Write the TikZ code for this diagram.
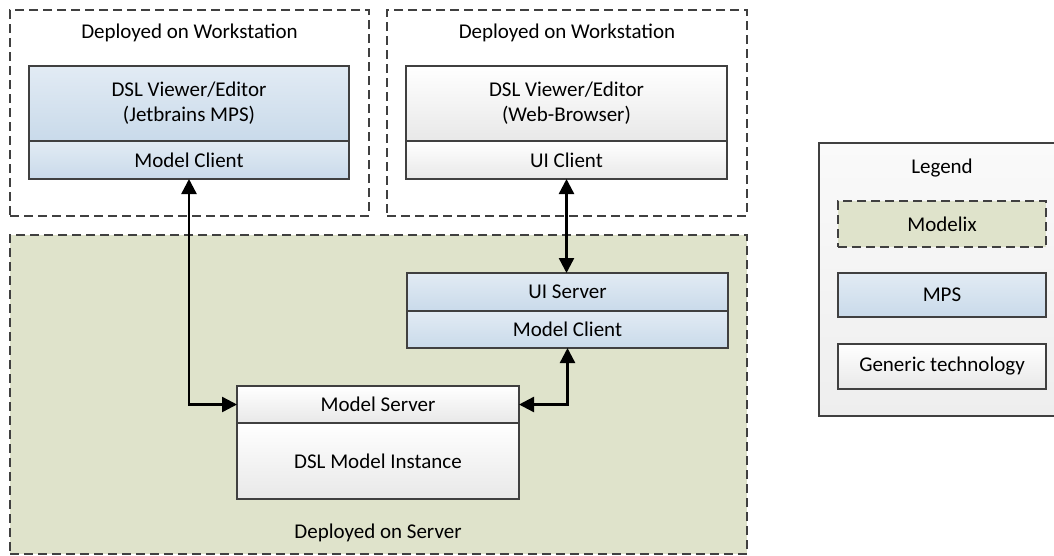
\documentclass[tikz,border=0pt]{standalone}
\usepackage{fontspec}
\setmainfont{Carlito}
\usetikzlibrary{arrows.meta}
\definecolor{dgray}{HTML}{404040}
\definecolor{sage}{HTML}{DFE3CB}
\definecolor{mpsTop}{HTML}{E2EBF4}
\definecolor{mpsBot}{HTML}{C9DAEA}
\definecolor{genBot}{HTML}{E8E8E8}
\definecolor{legTop}{HTML}{FAFAFA}
\definecolor{legBot}{HTML}{EEEEEE}
\tikzset{
  box/.style={rectangle, anchor=north west, inner sep=0pt, outer sep=0pt,
    font=\fontsize{21}{25}\selectfont, align=center},
  dashbox/.style={box, draw=dgray, line width=2.4pt, dash pattern=on 9pt off 5pt},
  mpsbox/.style={box, draw=dgray, line width=1.8pt, top color=mpsTop, bottom color=mpsBot},
  genbox/.style={box, draw=dgray, line width=1.8pt, top color=white, bottom color=genBot},
  title/.style={font=\fontsize{21}{25}\selectfont, inner sep=0pt},
  conn/.style={line width=2.4pt, black,
    {Triangle[length=15pt,width=15pt]}-{Triangle[length=15pt,width=15pt]}}
}
\begin{document}
\begin{tikzpicture}[x=1pt,y=-1pt]
\useasboundingbox (0,0) rectangle (1054,555);
% workstation containers
\node[dashbox, minimum width=359pt, minimum height=206pt] (ws1) at (10,10) {};
\node[title] (ws1t) at (189.5,33) {Deployed on Workstation};
\node[dashbox, minimum width=360pt, minimum height=206pt] (ws2) at (387,10) {};
\node[title] (ws2t) at (567,33) {Deployed on Workstation};
% server container
\node[dashbox, fill=sage, minimum width=737pt, minimum height=319pt] (srv) at (10,235) {};
\node[title] (srvt) at (378,533) {Deployed on Server};
% left viewer
\node[mpsbox, minimum width=320pt, minimum height=75pt] (lv) at (29,66) {DSL Viewer/Editor\\(Jetbrains MPS)};
\node[mpsbox, minimum width=320pt, minimum height=38pt] (lmc) at (29,141) {Model Client};
% right viewer
\node[genbox, minimum width=321pt, minimum height=75pt] (rv) at (406,66) {DSL Viewer/Editor\\(Web-Browser)};
\node[genbox, minimum width=321pt, minimum height=38pt] (uic) at (406,141) {UI Client};
% UI server
\node[mpsbox, minimum width=321pt, minimum height=38pt] (uis) at (407,273) {UI Server};
\node[mpsbox, minimum width=321pt, minimum height=37pt] (umc) at (407,311) {Model Client};
% model server
\node[genbox, minimum width=282pt, minimum height=37pt] (ms) at (237,386) {Model Server};
\node[genbox, minimum width=282pt, minimum height=76pt] (dmi) at (237,423) {DSL Model Instance};
% connectors
\draw[conn] (lmc.south) |- (ms.west);
\draw[conn] (uic.south) -- (uic.south |- uis.north);
\draw[conn] (umc.south) |- (ms.east);
% legend
\begin{scope}
\clip (0,0) rectangle (1054,555);
\node[box, draw=dgray, line width=1.8pt, top color=legTop, bottom color=legBot,
  minimum width=250pt, minimum height=273pt] (leg) at (819,143) {};
\end{scope}
\node[title] (legt) at (942,168) {Legend};
\node[dashbox, fill=sage, minimum width=208pt, minimum height=46pt] (lmod) at (838,201) {Modelix};
\node[mpsbox, minimum width=208pt, minimum height=44pt] (lmps) at (838,273) {MPS};
\node[genbox, minimum width=208pt, minimum height=45pt] (lgen) at (838,344) {Generic technology};
\end{tikzpicture}
\end{document}
